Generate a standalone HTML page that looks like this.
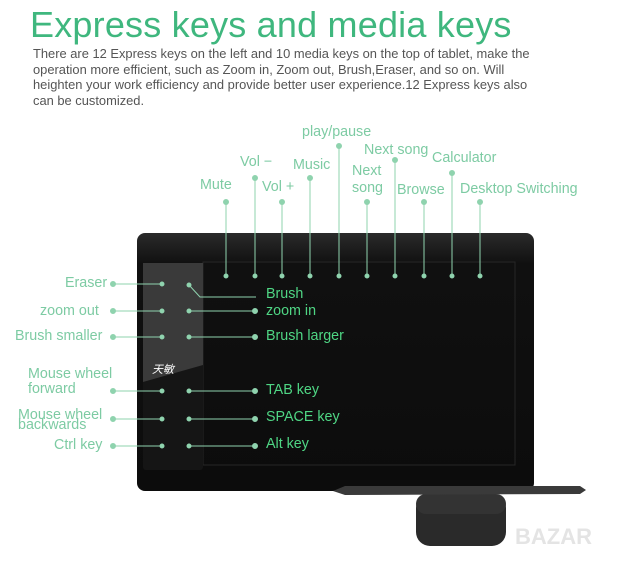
<!DOCTYPE html>
<html><head><meta charset="utf-8"><style>
body{margin:0;background:#fff;width:620px;height:566px;overflow:hidden;position:relative;font-family:"Liberation Sans","Noto Sans CJK SC",sans-serif}
.t{position:absolute;white-space:nowrap}
</style></head><body>
<div class="t" style="left:30px;top:4px;font-size:36px;color:#3fb77e;letter-spacing:0.2px">Express keys and media keys</div>
<div class="t" style="left:33px;top:46px;font-size:12.9px;line-height:15.5px;color:#555">There are 12 Express keys on the left and 10 media keys on the top of tablet, make the<br>operation more efficient, such as Zoom in, Zoom out, Brush,Eraser, and so on. Will<br>heighten your work efficiency and provide better user experience.12 Express keys also<br>can be customized.</div>
<svg width="620" height="566" style="position:absolute;left:0;top:0">
<defs><linearGradient id="g" x1="0" y1="0" x2="0" y2="1"><stop offset="0" stop-color="#2a2a2a"/><stop offset="0.12" stop-color="#101010"/><stop offset="1" stop-color="#0c0c0c"/></linearGradient></defs>
<rect x="137" y="233" width="397" height="258" rx="8" fill="url(#g)"/>
<rect x="203" y="262" width="312" height="203" fill="none" stroke="#262626"/>
<rect x="143" y="263" width="60" height="207" rx="3" fill="#151515"/>
<polygon points="143,263 203,263 203,365 143,382" fill="#3a3a3a"/>
<text x="152" y="373" font-size="11" fill="#fff" font-style="italic" font-family="Noto Sans CJK SC">天敏</text>
<g stroke="#8fd3ae" stroke-width="1" fill="#8fd3ae">
<line x1="226" y1="202" x2="226" y2="276"/><line x1="255" y1="178" x2="255" y2="276"/><line x1="282" y1="202" x2="282" y2="276"/><line x1="310" y1="178" x2="310" y2="276"/><line x1="339" y1="146" x2="339" y2="276"/><line x1="367" y1="202" x2="367" y2="276"/><line x1="395" y1="160" x2="395" y2="276"/><line x1="424" y1="202" x2="424" y2="276"/><line x1="452" y1="173" x2="452" y2="276"/><line x1="480" y1="202" x2="480" y2="276"/>
<circle cx="226" cy="202" r="2.5"/><circle cx="255" cy="178" r="2.5"/><circle cx="282" cy="202" r="2.5"/><circle cx="310" cy="178" r="2.5"/><circle cx="339" cy="146" r="2.5"/><circle cx="367" cy="202" r="2.5"/><circle cx="395" cy="160" r="2.5"/><circle cx="424" cy="202" r="2.5"/><circle cx="452" cy="173" r="2.5"/><circle cx="480" cy="202" r="2.5"/>
<circle cx="226" cy="276" r="2"/><circle cx="255" cy="276" r="2"/><circle cx="282" cy="276" r="2"/><circle cx="310" cy="276" r="2"/><circle cx="339" cy="276" r="2"/><circle cx="367" cy="276" r="2"/><circle cx="395" cy="276" r="2"/><circle cx="424" cy="276" r="2"/><circle cx="452" cy="276" r="2"/><circle cx="480" cy="276" r="2"/>
<line x1="113" y1="284" x2="162" y2="284"/><polyline points="189,285 200,297 256,297" fill="none"/>
<line x1="113" y1="311" x2="162" y2="311"/><line x1="189" y1="311" x2="255" y2="311"/>
<line x1="113" y1="337" x2="162" y2="337"/><line x1="189" y1="337" x2="255" y2="337"/>
<line x1="113" y1="391" x2="162" y2="391"/><line x1="189" y1="391" x2="255" y2="391"/>
<line x1="113" y1="419" x2="162" y2="419"/><line x1="189" y1="419" x2="255" y2="419"/>
<line x1="113" y1="446" x2="162" y2="446"/><line x1="189" y1="446" x2="255" y2="446"/>
<circle cx="113" cy="284" r="2.5"/><circle cx="113" cy="311" r="2.5"/><circle cx="113" cy="337" r="2.5"/><circle cx="113" cy="391" r="2.5"/><circle cx="113" cy="419" r="2.5"/><circle cx="113" cy="446" r="2.5"/>
<circle cx="255" cy="311" r="2.5"/><circle cx="255" cy="337" r="2.5"/><circle cx="255" cy="391" r="2.5"/><circle cx="255" cy="419" r="2.5"/><circle cx="255" cy="446" r="2.5"/>
<circle cx="162" cy="284" r="2"/><circle cx="189" cy="285" r="2"/><circle cx="162" cy="311" r="2"/><circle cx="189" cy="311" r="2"/><circle cx="162" cy="337" r="2"/><circle cx="189" cy="337" r="2"/><circle cx="162" cy="391" r="2"/><circle cx="189" cy="391" r="2"/><circle cx="162" cy="419" r="2"/><circle cx="189" cy="419" r="2"/><circle cx="162" cy="446" r="2"/><circle cx="189" cy="446" r="2"/>
</g>
<rect x="416" y="494" width="90" height="52" rx="14" fill="#2a2a2a"/>
<rect x="416" y="494" width="90" height="20" rx="10" fill="#333"/>
<path d="M333,491 L345,486 L580,486 L586,490 L580,494 L345,495 Z" fill="#3a3a3a"/>
</svg>
<div style="color:#7dcba3;font-size:14.3px">
<div class="t" style="left:200px;top:177px">Mute</div>
<div class="t" style="left:240px;top:154px">Vol −</div>
<div class="t" style="left:262px;top:179px">Vol +</div>
<div class="t" style="left:293px;top:157px">Music</div>
<div class="t" style="left:302px;top:124px">play/pause</div>
<div class="t" style="left:352px;top:163px;line-height:17px">Next<br>song</div>
<div class="t" style="left:364px;top:142px">Next song</div>
<div class="t" style="left:397px;top:182px">Browse</div>
<div class="t" style="left:432px;top:150px">Calculator</div>
<div class="t" style="left:460px;top:181px">Desktop Switching</div>
<div class="t" style="left:65px;top:275px">Eraser</div>
<div class="t" style="left:40px;top:303px">zoom out</div>
<div class="t" style="left:15px;top:328px">Brush smaller</div>
<div class="t" style="left:28px;top:367px;line-height:15px">Mouse wheel<br>forward</div>
<div class="t" style="left:18px;top:410px;line-height:10px">Mouse wheel<br>backwards</div>
<div class="t" style="left:54px;top:437px">Ctrl key</div>
</div>
<div style="color:#4fd684;font-size:14.3px">
<div class="t" style="left:266px;top:286px">Brush</div>
<div class="t" style="left:266px;top:303px">zoom in</div>
<div class="t" style="left:266px;top:328px">Brush larger</div>
<div class="t" style="left:266px;top:382px">TAB key</div>
<div class="t" style="left:266px;top:409px">SPACE  key</div>
<div class="t" style="left:266px;top:436px">Alt key</div>
</div>
<div class="t" style="left:515px;top:524px;font-size:22px;color:#e4e4e4;font-weight:bold">BAZAR</div>
</body></html>
